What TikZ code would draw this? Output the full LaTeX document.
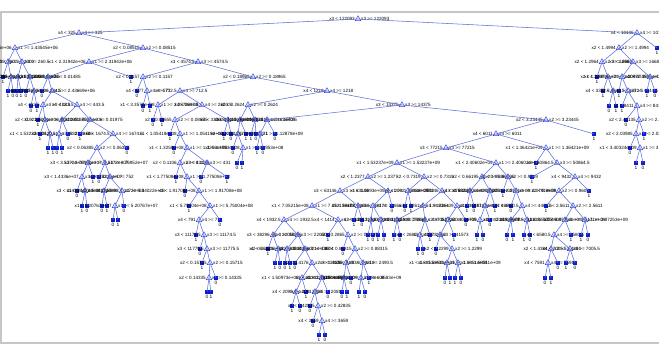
\documentclass[tikz,border=0pt]{standalone}
\usepackage{fontspec}
\setmainfont{Liberation Sans}
\usetikzlibrary{shapes.geometric}
\definecolor{trEdge} {HTML}{5F6FD9}
\definecolor{trMark} {HTML}{2F45E6}
\definecolor{trLeaf} {HTML}{0A1ED2}
\definecolor{trFrame}{HTML}{C6C6C6}
\newcounter{leafno}
% split node: name, parent, x, y, variable, threshold
\newcommand{\cutat}[6]{%
  \node[cutmark] (#1) at (#3,#4) {};
  \node[ruletext,anchor=east] (#1-lt) at (#3-3,#4) {x#5 < #6};
  \node[ruletext,anchor=west] (#1-ge) at (#3+3,#4) {x#5 >= #6};
  \draw[branch] (#2.center) -- (#1.center);}
% leaf: parent, x, y, class
\newcommand{\leafat}[4]{%
  \stepcounter{leafno}\edef\leafname{leaf\arabic{leafno}}%
  \node[leafmark] (\leafname) at (#2,#3) {};
  \node[classtext] (\leafname-c) at (#2,#3+5) {#4};
  \draw[branch] (#1.center) -- (\leafname.center);}

\begin{document}
\begin{tikzpicture}[x=1pt,y=-1pt,
    cutmark/.style={regular polygon,regular polygon sides=3,draw=trMark,
                    line width=0.5pt,inner sep=0pt,minimum size=6.4pt},
    leafmark/.style={rectangle,fill=trLeaf,inner sep=0pt,minimum size=3.2pt},
    ruletext/.style={font=\fontsize{4.6}{5}\selectfont,inner sep=0pt},
    classtext/.style={font=\fontsize{4.8}{5}\selectfont,inner sep=0pt},
    branch/.style={draw=trEdge,line width=0.55pt},
    frameline/.style={draw=trFrame,line width=1.2pt}]

  \useasboundingbox (0,0) rectangle (659,345);
  \draw[frameline] (0,12) -- (659,12);
  \draw[frameline] (1,12) -- (1,343);
  \draw[frameline] (0,343) -- (659,343);

  \node[cutmark] (root) at (358,19) {};
  \node[ruletext,anchor=east] (root-lt) at (355,19) {x3 < 122093};
  \node[ruletext,anchor=west] (root-ge) at (361,19) {x3 >= 122093};
  \cutat{A}{root}{79}{33}{4}{325}
  \cutat{B}{root}{637}{33}{4}{10136}

  % right branch
  \cutat{B1}{B}{619}{48}{2}{1.4994}
  \leafat{B}{657}{48}{1}
  \cutat{B11}{B1}{602}{62}{2}{1.2964}
  \cutat{B12}{B1}{633}{62}{3}{1668}
  \leafat{B11}{597}{77}{1}
  \cutat{B111}{B11}{608}{77}{2}{1.2097}
  \leafat{B111}{603}{91}{1}
  \cutat{B1112}{B111}{613}{91}{4}{3372.5}
  \leafat{B1112}{609}{106}{0}
  \leafat{B1112}{616}{106}{1}
  \cutat{B121}{B12}{622}{77}{1}{2.3896e+09}
  \cutat{B122}{B12}{650}{77}{4}{6745}
  \leafat{B121}{619}{91}{1}
  \cutat{B1212}{B121}{628}{91}{4}{4644.5}
  \leafat{B1212}{622}{106}{1}
  \cutat{B12122}{B1212}{637}{106}{4}{8411}
  \leafat{B12122}{626}{120}{0}
  \cutat{B5}{B12122}{639}{120}{2}{2.48135}
  \cutat{B6}{B5}{636}{134}{2}{2.03985}
  \leafat{B5}{644}{134}{1}
  \leafat{B6}{630}{148}{0}
  \cutat{B7}{B6}{640}{148}{1}{3.40324e+09}
  \leafat{B7}{636}{163}{1}
  \leafat{B7}{643}{163}{0}
  \leafat{B122}{647}{91}{1}
  \leafat{B122}{655}{91}{0}

  % left branch, far left
  \cutat{A1}{A}{15}{48}{1}{1.43545e+06}
  \cutat{A2}{A}{143}{48}{2}{0.08515}
  \cutat{A11}{A1}{8}{62}{3}{2000}
  \cutat{A12}{A1}{22}{62}{4}{260.5}
  \leafat{A11}{3}{77}{1}
  \cutat{A112}{A11}{11}{77}{2}{0.0206}
  \leafat{A112}{8}{91}{1}
  \leafat{A112}{13}{91}{0}
  \cutat{A121}{A12}{18}{77}{1}{2.0004e+06}
  \cutat{A122}{A12}{30}{77}{3}{4463.5}
  \leafat{A121}{17}{91}{0}
  \leafat{A121}{21}{91}{1}
  \leafat{A122}{26}{91}{0}
  \cutat{A1222}{A122}{34}{91}{4}{284.5}
  \leafat{A1222}{31}{106}{0}
  \leafat{A1222}{37}{106}{1}

  % left branch, x1 < 2.31942e+06
  \cutat{A21}{A2}{89}{62}{1}{2.31942e+06}
  \cutat{A22}{A2}{198}{62}{3}{4574.5}
  \cutat{A211}{A21}{48}{77}{2}{0.01485}
  \leafat{A21}{131}{77}{1}
  \leafat{A211}{42}{91}{0}
  \cutat{A2112}{A211}{52}{91}{1}{2.43669e+06}
  \cutat{A3}{A2112}{43}{105}{4}{412.5}
  \cutat{A4}{A2112}{77}{105}{4}{443.5}
  \leafat{A3}{38}{120}{1}
  \cutat{A31}{A3}{45}{120}{2}{0.02105}
  \leafat{A31}{40}{134}{1}
  \cutat{A311}{A31}{50}{134}{1}{1.53232e+06}
  \leafat{A311}{48}{148}{1}
  \leafat{A311}{53}{148}{1}
  \cutat{A41}{A4}{62}{120}{1}{1.6004e+06}
  \cutat{A42}{A4}{90}{120}{2}{0.01975}
  \cutat{A411}{A41}{59}{134}{3}{2120.5}
  \leafat{A41}{68}{134}{0}
  \leafat{A411}{57}{148}{0}
  \leafat{A411}{62}{148}{1}
  \leafat{A42}{80}{134}{1}
  \cutat{A421}{A42}{113}{134}{4}{1674.5}
  \cutat{A5}{A421}{97}{148}{2}{0.06385}
  \leafat{A421}{127}{148}{0}
  \cutat{P1}{A5}{88}{163}{3}{3.5172e+07}
  \cutat{P2}{A5}{105}{163}{3}{3.76952e+07}
  \cutat{Q1}{P1}{82}{177}{3}{1.4336e+07}
  \leafat{P1}{93}{177}{1}
  \leafat{Q1}{77}{191}{0}
  \cutat{R1}{Q1}{85}{191}{3}{114709}
  \leafat{R1}{82}{206}{1}
  \leafat{R1}{87}{206}{0}
  \leafat{P2}{99}{177}{0}
  \cutat{Q2}{P2}{110}{177}{4}{752}
  \cutat{R2}{Q2}{104}{191}{1}{4.1172e+08}
  \cutat{R3}{Q2}{122}{191}{1}{5.34022e+08}
  \leafat{R2}{102}{206}{0}
  \leafat{R2}{107}{206}{1}
  \cutat{R31}{R3}{115}{206}{1}{5.20767e+07}
  \leafat{R3}{124}{206}{0}
  \leafat{R31}{113}{220}{0}
  \leafat{R31}{118}{220}{1}

  % left branch, x3 < 4574.5
  \cutat{A221}{A22}{143}{77}{2}{0.1157}
  \cutat{A222}{A22}{253}{77}{2}{0.18965}
  \leafat{A221}{137}{91}{0}
  \cutat{S1}{A221}{147}{91}{4}{577}
  \leafat{S1}{143}{106}{0}
  \leafat{S1}{150}{106}{1}
  \cutat{C1}{A222}{180}{91}{4}{712.5}
  \cutat{C2}{A222}{327}{91}{4}{1218}
  \cutat{C11}{C1}{158}{105}{1}{3.3578e+08}
  \cutat{C12}{C1}{202}{105}{4}{2603.5}
  \leafat{C11}{153}{120}{0}
  \leafat{C11}{162}{120}{1}
  \cutat{C121}{C12}{175}{120}{2}{0.08655}
  \cutat{C122}{C12}{228}{120}{4}{3306.5}
  \leafat{C121}{170}{134}{1}
  \cutat{C1212}{C121}{180}{134}{1}{1.05419e+08}
  \leafat{C1212}{174}{148}{0}
  \cutat{C5}{C1212}{187}{148}{1}{1.3256e+08}
  \cutat{C51}{C5}{180}{163}{2}{0.1106}
  \cutat{C52}{C5}{207}{163}{3}{431}
  \leafat{C51}{176}{177}{1}
  \cutat{C511}{C51}{187}{177}{1}{1.77508e+08}
  \leafat{C52}{201}{177}{0}
  \leafat{C52}{227}{177}{1}
  \leafat{C511}{185}{191}{0}
  \cutat{C6}{C511}{199}{191}{1}{1.91708e+08}
  \leafat{C6}{189}{206}{1}
  \cutat{C7}{C6}{210}{206}{1}{5.75004e+08}
  \cutat{C8}{C7}{199}{220}{4}{791}
  \leafat{C7}{220}{220}{0}
  \leafat{C8}{196}{235}{1}
  \cutat{C9}{C8}{204}{235}{3}{11174.5}
  \leafat{C9}{200}{249}{0}
  \cutat{C10}{C9}{207}{249}{3}{11775.5}
  \leafat{C10}{202}{263}{1}
  \cutat{C13}{C10}{210}{263}{2}{0.15715}
  \cutat{C14}{C13}{209}{278}{2}{0.14335}
  \leafat{C13}{216}{278}{0}
  \leafat{C14}{207}{292}{0}
  \leafat{C14}{211}{292}{1}
  \leafat{C122}{224}{134}{1}
  \leafat{C122}{231}{134}{0}

  % x4 < 1218
  \cutat{D1}{C2}{248}{105}{2}{0.2624}
  \cutat{D2}{C2}{402}{105}{3}{14375}
  \cutat{D11}{D1}{240}{120}{3}{23415}
  \cutat{D12}{D1}{255}{120}{1}{1.0163e+09}
  \cutat{D111}{D11}{238}{134}{2}{0.2271}
  \leafat{D11}{246}{134}{1}
  \leafat{D111}{233}{148}{0}
  \cutat{D1112}{D111}{243}{148}{1}{4.3953e+08}
  \leafat{D1112}{237}{163}{0}
  \leafat{D1112}{242}{163}{1}
  \leafat{D12}{251}{134}{1}
  \leafat{D12}{256}{134}{0}
  \cutat{D21}{D2}{267}{120}{4}{1640.5}
  \cutat{D22}{D2}{546}{120}{2}{3.23445}
  \cutat{D211}{D21}{260}{134}{1}{1.12878e+09}
  \leafat{D21}{275}{134}{0}
  \leafat{D211}{257}{148}{1}
  \leafat{D211}{263}{148}{0}
  \cutat{E}{D22}{496}{134}{4}{6011}
  \leafat{D22}{594}{134}{1}
  \cutat{E1}{E}{446}{148}{3}{77215}
  \cutat{E2}{E}{546}{148}{1}{1.36421e+09}
  \cutat{F1}{E1}{397}{163}{1}{1.53237e+09}
  \cutat{F2}{E1}{496}{163}{1}{2.40602e+09}
  \leafat{E2}{536}{163}{1}
  \cutat{F3}{E2}{557}{163}{3}{50864.5}
  \cutat{G1}{F1}{368}{177}{2}{1.2377}
  \cutat{G2}{F1}{424}{177}{2}{0.7319}
  \cutat{G3}{F2}{482}{177}{2}{0.66195}
  \cutat{G4}{F2}{508}{177}{2}{0.9549}
  \leafat{F3}{532}{177}{1}
  \cutat{G5}{F3}{575}{177}{4}{9432}
  \cutat{H1}{G1}{340}{191}{3}{63146}
  \cutat{H2}{G1}{388}{191}{1}{1.0893e+09}
  \cutat{H3}{G2}{408}{191}{4}{2092}
  \cutat{H4}{G2}{442}{191}{3}{50246}
  \cutat{H5}{G3}{470}{191}{4}{3768.5}
  \cutat{H6}{G3}{490}{191}{1}{2.2101e+09}
  \leafat{G4}{503}{191}{1}
  \cutat{H7}{G4}{516}{191}{1}{2.0791e+09}
  \cutat{H8}{G5}{559}{191}{2}{0.9609}
  \leafat{G5}{589}{191}{1}
  \cutat{I1}{H1}{312}{206}{1}{7.05215e+08}
  \cutat{I2}{H1}{358}{206}{3}{39173}
  \cutat{I3}{H2}{373}{206}{3}{28866}
  \leafat{H2}{392}{206}{0}
  \leafat{H3}{405}{206}{0}
  \leafat{H3}{411}{206}{1}
  \cutat{I4}{H4}{423}{206}{4}{2261}
  \cutat{I5}{H4}{457}{206}{1}{1.9183e+09}
  \leafat{H5}{467}{206}{1}
  \leafat{H5}{474}{206}{0}
  \cutat{I6}{H6}{485}{206}{3}{36917}
  \leafat{H6}{495}{206}{1}
  \leafat{H7}{511}{206}{0}
  \cutat{I7}{H7}{522}{206}{4}{4460.5}
  \leafat{H8}{546}{206}{1}
  \cutat{I8}{H8}{573}{206}{2}{2.5611}
  \cutat{J1}{I1}{284}{220}{4}{1932.5}
  \cutat{J2}{I1}{338}{220}{4}{1414}
  \leafat{I2}{354}{220}{1}
  \leafat{I2}{362}{220}{0}
  \cutat{J3}{I3}{371}{220}{2}{1.3112}
  \cutat{J4}{I3}{381}{220}{3}{31440}
  \cutat{J5}{I4}{397}{220}{3}{29891}
  \cutat{J6}{I4}{425}{220}{2}{0.7726}
  \cutat{J7}{I5}{448}{220}{3}{44705}
  \leafat{I5}{466}{220}{0}
  \cutat{J8}{I6}{480}{220}{1}{2.3303e+09}
  \leafat{I6}{490}{220}{0}
  \cutat{J9}{I7}{511}{220}{4}{4213.5}
  \cutat{J10}{I7}{527}{220}{4}{5077.5}
  \cutat{J11}{I8}{565}{220}{1}{3.5171e+09}
  \cutat{J12}{I8}{585}{220}{1}{3.87253e+09}
  \cutat{K1}{J1}{273}{235}{3}{38296}
  \cutat{K2}{J1}{298}{235}{3}{22050}
  \leafat{J2}{328}{235}{1}
  \cutat{K3}{J2}{348}{235}{2}{0.2865}
  \leafat{J3}{368}{235}{1}
  \leafat{J3}{373}{235}{0}
  \leafat{J4}{378}{235}{1}
  \leafat{J4}{384}{235}{0}
  \leafat{J5}{394}{235}{1}
  \leafat{J5}{400}{235}{0}
  \cutat{K4}{J6}{420}{235}{4}{2680}
  \leafat{J6}{430}{235}{1}
  \cutat{K5}{J7}{440}{235}{3}{41573}
  \leafat{J7}{454}{235}{1}
  \leafat{J8}{477}{235}{1}
  \leafat{J8}{483}{235}{0}
  \leafat{J9}{507}{235}{0}
  \leafat{J9}{513}{235}{1}
  \leafat{J10}{524}{235}{1}
  \leafat{J10}{530}{235}{0}
  \cutat{K6}{J11}{554}{235}{4}{6580.5}
  \leafat{J11}{571}{235}{1}
  \leafat{J12}{581}{235}{1}
  \leafat{J12}{588}{235}{0}
  \leafat{K1}{268}{249}{1}
  \cutat{L1}{K1}{278}{249}{2}{0.2306}
  \cutat{L2}{K2}{287}{249}{1}{6.6021e+08}
  \cutat{L3}{K2}{305}{249}{3}{33804}
  \leafat{K3}{343}{249}{0}
  \cutat{L4}{K3}{355}{249}{2}{0.88315}
  \leafat{K4}{418}{249}{1}
  \leafat{K4}{423}{249}{0}
  \leafat{K5}{436}{249}{0}
  \cutat{L5}{K5}{452}{249}{2}{1.2299}
  \cutat{L6}{K6}{551}{249}{2}{1.4384}
  \cutat{L7}{K6}{570}{249}{4}{7005.5}
  \leafat{L1}{275}{263}{1}
  \leafat{L1}{280}{263}{0}
  \leafat{L2}{285}{263}{0}
  \leafat{L2}{290}{263}{1}
  \leafat{L3}{295}{263}{0}
  \cutat{M1}{L3}{312}{263}{2}{0.4176}
  \cutat{M2}{L4}{346}{263}{3}{29218}
  \cutat{M3}{L4}{363}{263}{4}{2490.5}
  \cutat{M4}{L5}{447}{263}{1}{1.6851e+09}
  \cutat{M5}{L5}{458}{263}{1}{1.58511e+09}
  \cutat{M6}{L6}{548}{263}{4}{7591}
  \leafat{L6}{558}{263}{0}
  \leafat{L7}{566}{263}{1}
  \leafat{L7}{575}{263}{0}
  \cutat{N1}{M1}{302}{278}{1}{1.50973e+09}
  \cutat{N2}{M1}{322}{278}{3}{24332}
  \cutat{N3}{M2}{344}{278}{1}{1.1818e+09}
  \leafat{M2}{351}{278}{0}
  \cutat{N4}{M3}{361}{278}{1}{1.6583e+09}
  \leafat{M3}{369}{278}{1}
  \leafat{M4}{445}{278}{0}
  \leafat{M4}{450}{278}{1}
  \leafat{M5}{455}{278}{1}
  \leafat{M5}{461}{278}{0}
  \leafat{M6}{545}{278}{0}
  \leafat{M6}{551}{278}{1}
  \cutat{O1}{N1}{296}{292}{4}{2098}
  \leafat{N1}{306}{292}{1}
  \cutat{O2}{N2}{315}{292}{4}{2081}
  \leafat{N2}{328}{292}{0}
  \leafat{N3}{342}{292}{0}
  \leafat{N3}{347}{292}{1}
  \leafat{N4}{359}{292}{1}
  \leafat{N4}{365}{292}{0}
  \leafat{O1}{292}{306}{1}
  \leafat{O1}{300}{306}{0}
  \leafat{O2}{310}{306}{0}
  \cutat{P0}{O2}{318}{306}{2}{0.42835}
  \leafat{P0}{313}{321}{0}
  \cutat{Q0}{P0}{322}{321}{4}{3659}
  \leafat{Q0}{319}{335}{1}
  \leafat{Q0}{325}{335}{0}
\end{tikzpicture}
\end{document}
